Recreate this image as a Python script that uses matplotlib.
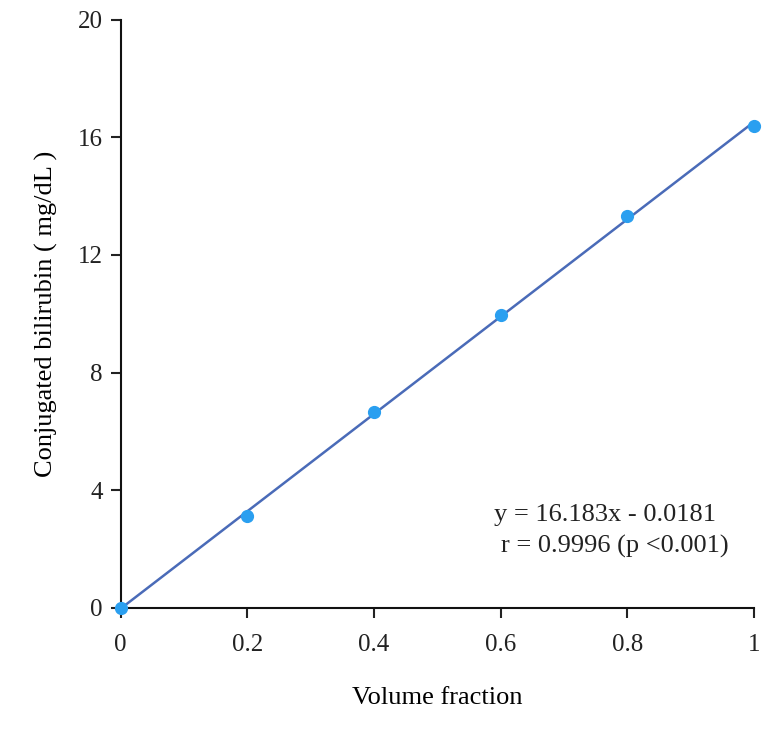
import matplotlib

matplotlib.use('Agg')
import matplotlib.pyplot as plt
import numpy as np

# data
volume_fraction = [0.0, 0.2, 0.4, 0.6, 0.8, 1.0]
bilirubin = [0.0, 3.13, 6.67, 9.97, 13.33, 16.4]
x_ticks = [0, 0.2, 0.4, 0.6, 0.8, 1]
x_labels = ['0', '0.2', '0.4', '0.6', '0.8', '1']
y_ticks = [0, 4, 8, 12, 16, 20]
eq_text = 'y = 16.183x - 0.0181'
r_text = 'r = 0.9996 (p <0.001)'

plt.rcParams['font.family'] = ['Liberation Serif', 'DejaVu Serif']

fig = plt.figure(figsize=(7.64, 7.34), dpi=100)
ax = fig.add_axes([0.158, 0.172, 0.829, 0.801])

# least squares line through the points
m, b = np.polyfit(volume_fraction, bilirubin, 1)
xs = np.array([0.0, 1.0])
ax.plot(xs, m * xs + b, color='#4a6bb8', lw=1.8, zorder=2)
ax.plot(volume_fraction, bilirubin, 'o', color='#2a9ff0', ms=8.5, zorder=3,
        clip_on=False)

ax.set_xlim(0, 1)
ax.set_ylim(0, 20)
ax.set_xticks(x_ticks)
ax.set_xticklabels(x_labels)
ax.set_yticks(y_ticks)

for s in ['top', 'right']:
    ax.spines[s].set_visible(False)
for s in ['left', 'bottom']:
    ax.spines[s].set_linewidth(1.5)
    ax.spines[s].set_color('#111111')

ax.tick_params(axis='both', direction='out', length=7, width=1.5,
               labelsize=18, colors='#222222', pad=6)
ax.tick_params(axis='x', pad=12)

ax.set_xlabel('Volume fraction', fontsize=19, labelpad=22)
ax.set_ylabel('Conjugated bilirubin ( mg/dL )', fontsize=19, labelpad=14)

ax.text(0.765, 3.16, eq_text, fontsize=19, ha='center', va='center',
        color='#222222')
ax.text(0.78, 2.07, r_text, fontsize=19, ha='center', va='center',
        color='#222222')

fig.savefig('out.png', dpi=100)
